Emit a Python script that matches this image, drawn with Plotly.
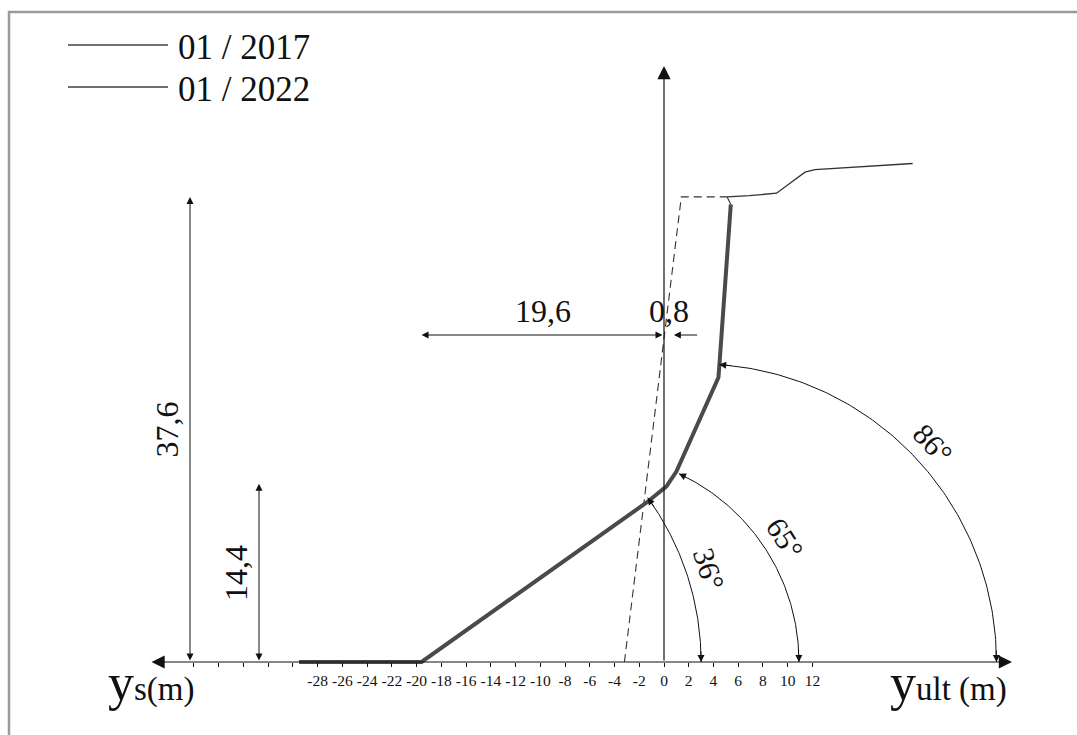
import numpy as np
import plotly.graph_objects as go

# ---------------- data (metres) ----------------
# 01/2017 slope profile (dashed) and common ground line at top
p2017_x = [-3.2, 1.4, 5.1]
p2017_y = [0.0, 37.6, 37.6]
ground_x = [5.1, 6.9, 9.1, 11.4, 12.2, 20.1]
ground_y = [37.6, 37.7, 37.9, 39.6, 39.8, 40.3]
# 01/2022 slope profile (thick)
p2022_x = [-29.5, -19.6, -1.4, 0.2, 1.0, 4.4, 4.5, 5.4]
p2022_y = [0.0, 0.0, 12.9, 14.2, 15.4, 23.0, 24.3, 37.0]

# dimension values
dim_heights = [37.6, 14.4]
dim_widths = [19.6, 0.8]
dim_height_labels = ["37,6", "14,4"]
dim_width_labels = ["19,6", "0,8"]
angles_deg = [36, 65, 86]
angle_labels = ["36°", "65°", "86°"]

# axis ticks
tick_vals = list(range(-38, 13, 2))
tick_text = [str(v) if v >= -28 else "" for v in tick_vals]

# ---------------- layout geometry ----------------
W, H = 1077, 735
S = 12.37            # px per metre
OX, OY = 664, 662    # pixel position of origin
xr = [-OX / S, (W - OX) / S]
yr = [(OY - H) / S, OY / S]

FONT = "Liberation Serif"
INK = "#111111"

fig = go.Figure()

# 2017 dashed profile
fig.add_trace(go.Scatter(x=p2017_x, y=p2017_y, mode="lines",
                         line=dict(color="#333333", width=1.1, dash="8px,5px"),
                         showlegend=False, hoverinfo="skip"))
# ground line
fig.add_trace(go.Scatter(x=ground_x, y=ground_y, mode="lines",
                         line=dict(color="#333333", width=1.3),
                         showlegend=False, hoverinfo="skip"))
# link from 2022 top to ground
fig.add_trace(go.Scatter(x=[p2022_x[-1], ground_x[0]], y=[p2022_y[-1], ground_y[0]],
                         mode="lines", line=dict(color="#333333", width=1.1),
                         showlegend=False, hoverinfo="skip"))
# 2022 thick profile
fig.add_trace(go.Scatter(x=p2022_x, y=p2022_y, mode="lines",
                         line=dict(color="#4a4a4a", width=4),
                         showlegend=False, hoverinfo="skip"))

annotations = []
shapes = []


def arrow(x_head, y_head, x_tail, y_tail, both=False, size=1.6, width=1.0, head=2):
    annotations.append(dict(
        x=x_head, y=y_head, ax=x_tail, ay=y_tail, xref="x", yref="y",
        axref="x", ayref="y", text="", showarrow=True, arrowhead=head,
        arrowsize=size, arrowwidth=width, arrowcolor=INK,
        arrowside="end+start" if both else "end", standoff=0, startstandoff=0))


# main axes with arrows
x_left = (150 - OX) / S
x_right = (1012 - OX) / S
y_top = (OY - 66) / S
arrow(x_right, 0, x_left, 0, both=True, size=2.2, width=1.2)
arrow(0, y_top, 0, 0, size=2.2, width=1.2)

# vertical dimension lines
dim_x = [(190 - OX) / S, (259 - OX) / S]
for h, lab, dx in zip(dim_heights, dim_height_labels, dim_x):
    arrow(dx, h, dx, 0, both=True, size=1.4, width=1.0)
    annotations.append(dict(x=dx - 1.85, y=h / 2, xref="x", yref="y", text=lab,
                            showarrow=False, textangle=-90,
                            font=dict(family=FONT, size=32, color=INK)))

# horizontal dimension lines
dim_y = (OY - 335) / S
arrow(-dim_widths[0], dim_y, 0, dim_y, both=True, size=1.4, width=1.0)
arrow(dim_widths[1], dim_y, dim_widths[1] + 2.0, dim_y, size=1.4, width=1.0)
annotations.append(dict(x=-dim_widths[0] / 2, y=dim_y + 1.95, xref="x", yref="y",
                        text=dim_width_labels[0], showarrow=False,
                        font=dict(family=FONT, size=32, color=INK)))
annotations.append(dict(x=dim_widths[1] / 2, y=dim_y + 1.95, xref="x", yref="y",
                        text=dim_width_labels[1], showarrow=False,
                        font=dict(family=FONT, size=32, color=INK)))

# angle arcs: centred where each profile segment meets y = 0
seg_idx = [(1, 2), (4, 5), (6, 7)]
radii = [22.6, 16.8, 24.1]
for (i, j), ang, r, lab in zip(seg_idx, angles_deg, radii, angle_labels):
    xa, ya, xb, yb = p2022_x[i], p2022_y[i], p2022_x[j], p2022_y[j]
    cx = xa - ya * (xb - xa) / (yb - ya)
    th = np.radians(np.linspace(0, ang, 120))
    fig.add_trace(go.Scatter(x=cx + r * np.cos(th), y=r * np.sin(th), mode="lines",
                             line=dict(color=INK, width=1.0),
                             showlegend=False, hoverinfo="skip"))
    d = np.radians(2.5)
    a = np.radians(ang)
    arrow(cx + r, 0, cx + r * np.cos(d), r * np.sin(d), size=1.4)
    arrow(cx + r * np.cos(a), r * np.sin(a), cx + r * np.cos(a - d), r * np.sin(a - d), size=1.4)
    phi = np.radians(ang / 2)
    rt = r + 1.8
    annotations.append(dict(x=cx + rt * np.cos(phi), y=rt * np.sin(phi), xref="x", yref="y",
                            text=lab, showarrow=False, textangle=90 - ang / 2,
                            font=dict(family=FONT, size=30, color=INK)))

# axis labels
annotations.append(dict(x=106 / W, y=1 - 682 / H, xref="paper", yref="paper",
                        xanchor="left", yanchor="middle", showarrow=False,
                        text="<span style='font-size:52px'>y</span>s(m)",
                        font=dict(family=FONT, size=33, color=INK)))
annotations.append(dict(x=888 / W, y=1 - 682 / H, xref="paper", yref="paper",
                        xanchor="left", yanchor="middle", showarrow=False,
                        text="<span style='font-size:52px'>y</span>ult (m)",
                        font=dict(family=FONT, size=33, color=INK)))

# legend (drawn)
legend_names = ["01 / 2017", "01 / 2022"]
legend_rows = [45, 87]
for name, py in zip(legend_names, legend_rows):
    shapes.append(dict(type="line", xref="paper", yref="paper",
                       x0=68 / W, x1=168 / W, y0=1 - py / H, y1=1 - py / H,
                       line=dict(color="#707070", width=2)))
    annotations.append(dict(x=176 / W, y=1 - (py + 2) / H, xref="paper", yref="paper",
                            xanchor="left", yanchor="middle", showarrow=False, text=name,
                            font=dict(family=FONT, size=35, color=INK)))

# outer frame (right and bottom edges lie outside the page)
shapes.append(dict(type="rect", xref="paper", yref="paper",
                   x0=9 / W, x1=1.08, y0=-0.02, y1=1 - 12 / H,
                   line=dict(color="#9a9a9a", width=2.5), fillcolor="rgba(0,0,0,0)"))

fig.update_layout(
    width=W, height=H, margin=dict(l=0, r=0, t=0, b=0),
    paper_bgcolor="white", plot_bgcolor="white",
    showlegend=False, annotations=annotations, shapes=shapes,
    xaxis=dict(range=xr, domain=[0, 1], anchor="free", position=(H - OY) / H,
               showgrid=False, zeroline=False, showline=False,
               tickmode="array", tickvals=tick_vals, ticktext=tick_text,
               ticks="outside", ticklen=4, tickcolor=INK, tickwidth=1,
               tickfont=dict(family=FONT, size=15.5, color=INK), fixedrange=True),
    yaxis=dict(range=yr, domain=[0, 1], visible=False, fixedrange=True),
)

fig.write_html("out.html", config=dict(displayModeBar=False),
               post_script="document.body.style.margin='0px';")
